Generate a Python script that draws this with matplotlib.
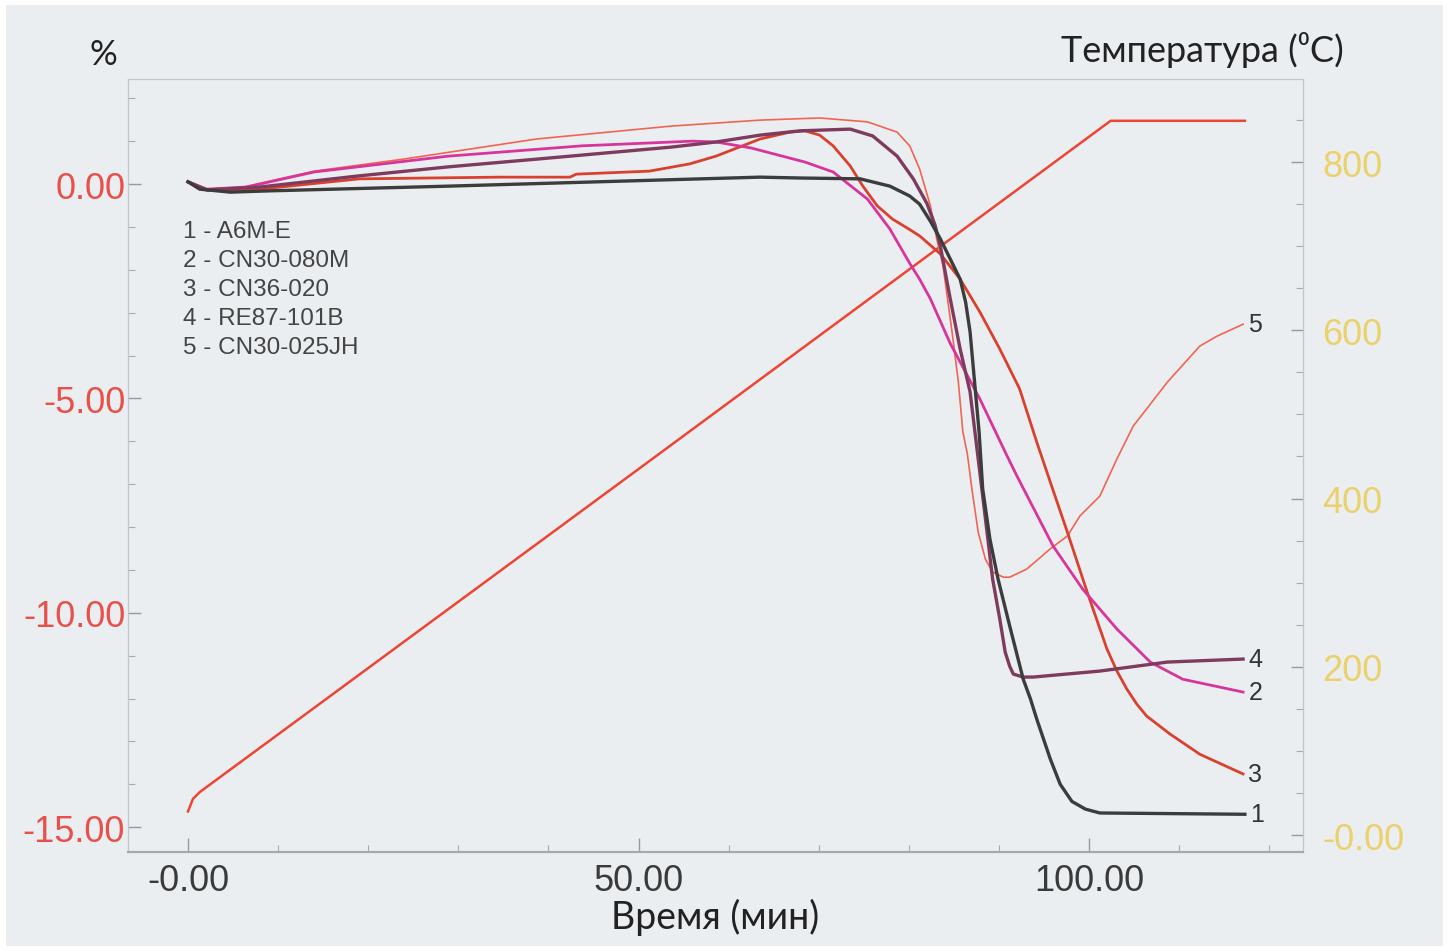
import matplotlib
matplotlib.use('Agg')
import matplotlib.pyplot as plt
from matplotlib.ticker import MultipleLocator
from matplotlib.patches import Rectangle
from matplotlib import font_manager

# ---------------- data ----------------
# time in minutes, mass change in %
t_1 = [0, 1.3, 4.7, 9.0, 28.9, 48.6, 63.5, 67.9, 74.6, 77.9, 80.1, 81.2, 82.4, 83.5, 84.6,
       85.7, 86.3, 86.8, 87.3, 87.8, 88.2, 89.0, 89.9, 91.2, 92.7, 93.5, 94.2, 95.7, 96.8, 98.1,
       99.6, 101.2, 117.3]
m_1 = [0.05, -0.12, -0.19, -0.16, -0.05, 0.07, 0.16, 0.14, 0.12, -0.05, -0.28, -0.47, -0.87, -1.28,
       -1.75, -2.22, -2.75, -3.45, -4.62, -5.78, -7.11, -8.28, -9.21, -10.31, -11.55, -12.01, -12.48,
       -13.41, -14.00, -14.40, -14.58, -14.67, -14.70]

t_2 = [0, 2.1, 6.5, 14.0, 28.9, 43.7, 56.0, 58.6, 62.5, 68.5, 71.6, 75.4, 77.9, 80.1, 81.2,
       82.4, 84.6, 87.9, 90.9, 92.0, 96.0, 99.3, 103.1, 106.8, 110.4, 117.1]
m_2 = [0.05, -0.12, -0.07, 0.28, 0.65, 0.89, 1.00, 0.98, 0.84, 0.51, 0.28, -0.35, -1.05, -1.85,
       -2.22, -2.68, -3.72, -5.02, -6.34, -6.81, -8.44, -9.45, -10.38, -11.15, -11.55, -11.85]

t_3 = [0, 2.1, 8.0, 19.0, 34.6, 42.4, 43.1, 51.2, 55.7, 58.6, 63.5, 66.8, 68.5, 70.1, 71.6,
       73.5, 74.9, 76.5, 78.2, 80.0, 81.2, 83.5, 85.7, 87.9, 90.1, 92.3, 94.2, 95.7, 97.6, 99.8,
       102.0, 103.1, 104.2, 105.3, 106.4, 109.0, 112.3, 117.1]
m_3 = [0.05, -0.14, -0.12, 0.12, 0.16, 0.16, 0.23, 0.30, 0.47, 0.65, 1.05, 1.21, 1.24, 1.14, 0.89,
       0.42, -0.05, -0.51, -0.82, -1.05, -1.21, -1.63, -2.22, -2.99, -3.85, -4.78, -6.02, -6.95,
       -8.12, -9.52, -10.85, -11.36, -11.78, -12.13, -12.41, -12.83, -13.30, -13.76]

t_4 = [0, 2.1, 8.0, 19.0, 28.9, 38.7, 53.6, 58.6, 63.5, 67.9, 73.5, 76.0, 78.7, 80.5, 82.0,
       82.9, 83.5, 84.6, 85.7, 86.8, 87.7, 88.5, 89.3, 90.1, 90.7, 91.2, 91.6, 92.7, 93.8,
       101.2, 108.7, 117.1]
m_4 = [0.05, -0.14, -0.07, 0.19, 0.40, 0.58, 0.86, 0.98, 1.14, 1.24, 1.28, 1.12, 0.65, 0.12, -0.45,
       -0.95, -1.45, -2.68, -3.85, -4.85, -6.41, -7.80, -9.21, -10.15, -10.92, -11.25, -11.43,
       -11.50, -11.50, -11.36, -11.15, -11.08]

t_5 = [0, 1.3, 4.7, 14.0, 23.9, 38.7, 53.6, 63.5, 70.1, 75.4, 78.7, 80.1, 81.2, 82.4, 83.1,
       83.8, 84.8, 85.5, 86.0, 86.5, 87.0, 87.7, 88.5, 89.3, 90.5, 91.2, 93.1, 95.7, 97.6, 99.0,
       101.2, 103.1, 104.9, 108.7, 112.3, 114.2, 117.1]
m_5 = [0.05, -0.12, -0.14, 0.30, 0.58, 1.05, 1.35, 1.49, 1.54, 1.45, 1.21, 0.89, 0.35, -0.51, -1.28,
       -1.91, -3.45, -4.62, -5.78, -6.30, -7.11, -8.12, -8.75, -9.05, -9.17, -9.17, -8.98, -8.51,
       -8.21, -7.74, -7.28, -6.41, -5.65, -4.62, -3.78, -3.55, -3.27]

# temperature programme (deg C)
t_temp = [0, 0.55, 1.3, 50.0, 102.4, 117.3]
temp = [28, 43, 51, 435, 849, 849]

legend_lines = ["1 - A6M-E", "2 - CN30-080M", "3 - CN36-020", "4 - RE87-101B", "5 - CN30-025JH"]
end_labels = ["1", "2", "3", "4", "5"]

x_ticks = [0, 50, 100]
x_tick_labels = ["-0.00", "50.00", "100.00"]
y_ticks = [0, -5, -10, -15]
y_tick_labels = ["0.00", "-5.00", "-10.00", "-15.00"]
temp_ticks = [0, 200, 400, 600, 800]
temp_tick_labels = ["-0.00", "200", "400", "600", "800"]

# ---------------- style ----------------
names = {f.name for f in font_manager.fontManager.ttflist}
tick_font = 'Liberation Sans Narrow' if 'Liberation Sans Narrow' in names else 'Liberation Sans'
plt.rcParams['font.family'] = [tick_font, 'DejaVu Sans']
title_font = ['Lato', 'DejaVu Sans']

W, H = 1449, 953
fig = plt.figure(figsize=(W / 100, H / 100), dpi=100)
fig.patch.set_facecolor('white')
fig.patches.append(Rectangle((6 / W, 6 / H), (1443 - 6) / W, (947 - 6) / H,
                             transform=fig.transFigure, facecolor='#eaeef1',
                             edgecolor='none', zorder=-10))

L, R, T, B = 128, 1303, 80, 853
ax = fig.add_axes([L / W, 1 - B / H, (R - L) / W, (B - T) / H])
ax.set_facecolor('none')
ax2 = ax.twinx()
ax2.set_facecolor('none')

ax.set_xlim(-6.66, 123.75)
ax.set_ylim(-15.58, 2.449)
ax2.set_ylim(-20.2, 898.7)

c1, c2, c3, c4, c5 = '#3c3c3c', '#d8359c', '#d9412e', '#7e3b5e', '#f26452'
ax2.plot(t_temp, temp, color='#ee4433', lw=1.8, zorder=2)
ax.plot(t_5, m_5, color=c5, lw=1.2, zorder=3)
ax.plot(t_3, m_3, color=c3, lw=2.0, zorder=3)
ax.plot(t_2, m_2, color=c2, lw=2.0, zorder=3)
ax.plot(t_4, m_4, color=c4, lw=2.4, zorder=3)
ax.plot(t_1, m_1, color=c1, lw=2.4, zorder=4)
ax.set_zorder(ax2.get_zorder() + 1)

for lab, tt, mm in zip(end_labels, [t_1, t_2, t_3, t_4, t_5], [m_1, m_2, m_3, m_4, m_5]):
    ax.text(tt[-1] + 0.6, mm[-1], lab, fontsize=18, color='#333333', family='Liberation Sans',
            ha='left', va='center')

for i, s in enumerate(legend_lines):
    fig.text(183 / W, 1 - (232 + 29 * i) / H, s, fontsize=17.5, color='#444444',
             family='Liberation Sans', ha='left', va='center')

spine_c = '#c4c6c8'
for sp in ['left', 'right', 'top']:
    ax.spines[sp].set_color(spine_c)
    ax2.spines[sp].set_color(spine_c)
ax.spines['bottom'].set_color('#a8a8a8')
ax2.spines['bottom'].set_color('#a8a8a8')
ax.spines['bottom'].set_linewidth(1.5)

ax.set_xticks(x_ticks)
ax.set_xticklabels(x_tick_labels)
ax.xaxis.set_minor_locator(MultipleLocator(10))
ax.set_yticks(y_ticks)
ax.set_yticklabels(y_tick_labels)
ax.yaxis.set_minor_locator(MultipleLocator(1))
ax2.set_yticks(temp_ticks)
ax2.set_yticklabels(temp_tick_labels)
ax2.yaxis.set_minor_locator(MultipleLocator(50))

ax.tick_params(axis='x', which='major', direction='in', length=10, width=1, color='#999999',
               labelcolor='#3a3a3a', labelsize=26, pad=8)
ax.tick_params(axis='x', which='minor', direction='in', length=5, width=0.8, color='#aaaaaa')
ax.tick_params(axis='y', which='major', direction='in', length=9, width=1, color='#999999',
               labelcolor='#e8504a', labelsize=26, pad=2)
ax.tick_params(axis='y', which='minor', direction='in', length=5, width=0.8, color='#aaaaaa')
ax2.tick_params(axis='y', which='major', direction='in', length=9, width=1, color='#999999',
                labelcolor='#ecd06a', labelsize=26, pad=14)
ax2.tick_params(axis='y', which='minor', direction='in', length=5, width=0.8, color='#aaaaaa')

fig.text(103 / W, 1 - 55 / H, '%', fontsize=25, color='#222222', family=title_font,
         ha='center', va='center')
fig.text(1202 / W, 1 - 50 / H, 'Температура (⁰C)', fontsize=26, color='#222222',
         family=title_font, ha='center', va='center')
fig.text(715 / W, 1 - 917 / H, 'Время (мин)', fontsize=27, color='#222222',
         family=title_font, ha='center', va='center')

fig.savefig('out.png', dpi=100, facecolor=fig.get_facecolor())
